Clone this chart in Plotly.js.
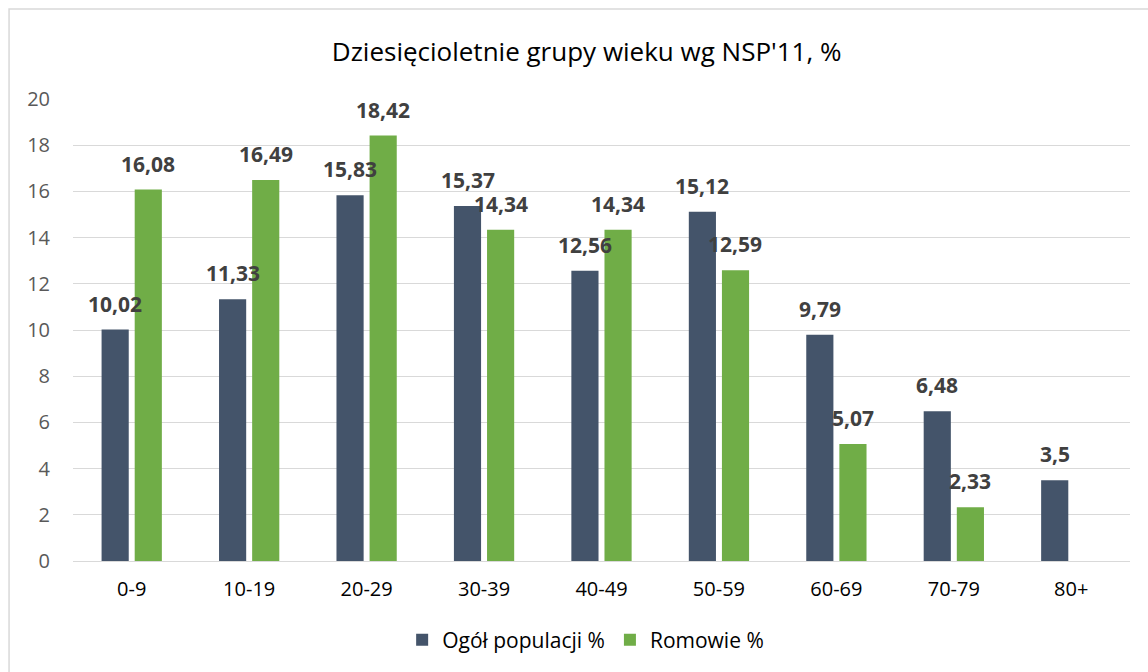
<!DOCTYPE html>
<html>
<head>
<meta charset="utf-8">
<script src="https://cdn.plot.ly/plotly-3.0.1.min.js"></script>
<style>
  html, body { margin: 0; padding: 0; background: #fff; }
  #chart { width: 1148px; height: 672px; }
</style>
</head>
<body>
<div id="chart"></div>
<script>
let groups = ["0-9", "10-19", "20-29", "30-39", "40-49", "50-59", "60-69", "70-79", "80+"];
let ogol = [10.02, 11.33, 15.83, 15.37, 12.56, 15.12, 9.79, 6.48, 3.5];
let romowie = [16.08, 16.49, 18.42, 14.34, 14.34, 12.59, 5.07, 2.33, null];

let font = "'Open Sans', sans-serif";

function fmt(v) {
  return String(v).replace(".", ",");
}

let data = [
  {type: "bar", name: "Ogół populacji %", x: groups, y: ogol, marker: {color: "#44546A"}, hoverinfo: "none"},
  {type: "bar", name: "Romowie %", x: groups, y: romowie, marker: {color: "#70AD47"}, hoverinfo: "none"}
];

// data labels, shifted over each bar of the group
let annotations = [];
[[ogol, -16.5], [romowie, 16.5]].forEach(([vals, shift]) => {
  vals.forEach((v, i) => {
    if (v == null) return;
    annotations.push({
      x: groups[i], y: v, xref: "x", yref: "y",
      text: "<b>" + fmt(v) + "</b>", showarrow: false,
      xshift: shift, yshift: 10, yanchor: "bottom",
      font: {family: font, size: 21, color: "#404040"}
    });
  });
});

let layout = {
  width: 1148, height: 672,
  margin: {l: 73, r: 18, t: 99, b: 111},
  paper_bgcolor: "#fff", plot_bgcolor: "#fff",
  font: {family: font, color: "#595959", size: 20},
  title: {
    text: "Dziesięcioletnie grupy wieku wg NSP'11, %",
    font: {family: font, size: 26, color: "#000"},
    x: 0.511, xref: "container", xanchor: "center",
    y: 0.923, yref: "container", yanchor: "middle"
  },
  bargap: 0.436, bargroupgap: 0.18,
  xaxis: {
    showgrid: false, showline: false, ticks: "",
    ticklabelstandoff: 14,
    tickfont: {family: font, size: 20, color: "#000"}
  },
  yaxis: {
    range: [0, 20], dtick: 2, showgrid: true, gridcolor: "#d9d9d9", gridwidth: 1,
    zeroline: true, zerolinecolor: "#d9d9d9", zerolinewidth: 1,
    ticks: "", ticklabelstandoff: 22,
    tickfont: {family: font, size: 20, color: "#595959"}
  },
  showlegend: true,
  legend: {
    orientation: "h", x: 0.485, xanchor: "center", y: -0.171, yanchor: "middle",
    font: {family: font, size: 21, color: "#000"}, itemwidth: 30
  },
  annotations: annotations,
  shapes: [{
    type: "rect", xref: "paper", yref: "paper",
    x0: -0.0605, x1: 1.2, y0: -0.5, y1: 1.1948,
    line: {color: "#d9d9d9", width: 1.5}, layer: "below"
  }]
};

Plotly.newPlot("chart", data, layout, {displayModeBar: false});
</script>
</body>
</html>
